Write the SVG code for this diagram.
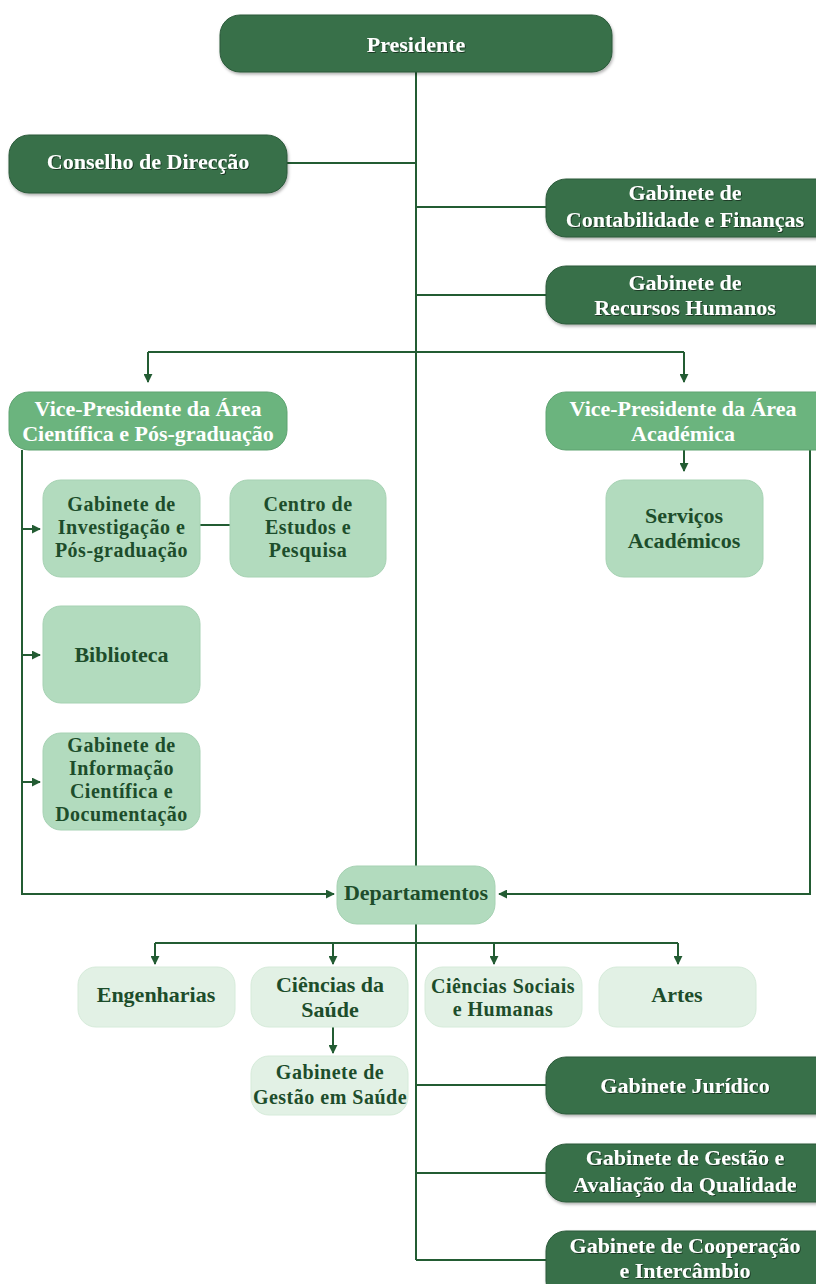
<svg xmlns="http://www.w3.org/2000/svg" width="816" height="1284" viewBox="0 0 816 1284">
<defs>
<style>
text{font-family:"Liberation Serif","Times New Roman",serif;font-weight:bold;font-size:22px;text-anchor:middle}
text.tight{font-size:20px;letter-spacing:0.5px}
.dk rect{fill:#386f4a;stroke:#2b5a3a;stroke-width:1}
.dk text{fill:#ffffff}
.md rect{fill:#6bb47e;stroke:#5ea371;stroke-width:1}
.md text{fill:#ffffff}
.lt rect{fill:#b2dbbe;stroke:#a6d2b3;stroke-width:1}
.lt text{fill:#1d4d2b}
.vl rect{fill:#e2f1e5;stroke:#d6ebda;stroke-width:1}
.vl text{fill:#1d4d2b}
.ln{fill:none;stroke:#235c33;stroke-width:2}
</style>
<marker id="ah" viewBox="0 0 10 10" refX="9" refY="5" markerWidth="9" markerHeight="9" markerUnits="userSpaceOnUse" orient="auto">
<path d="M0,0 L10,5 L0,10 z" fill="#235c33"/>
</marker>
<filter id="sh" x="-10%" y="-10%" width="120%" height="130%">
<feDropShadow dx="1" dy="2" stdDeviation="1.5" flood-color="#000" flood-opacity="0.3"/>
</filter>
<filter id="ts" x="-10%" y="-20%" width="120%" height="140%">
<feDropShadow dx="1" dy="1" stdDeviation="0.6" flood-color="#000" flood-opacity="0.5"/>
</filter>
</defs>
<rect width="816" height="1284" fill="#ffffff"/>

<g id="connectors">
<path class="ln" d="M416,72 V1260"/>
<path class="ln" d="M287,163 H416"/>
<path class="ln" d="M416,207 H546"/>
<path class="ln" d="M416,295 H546"/>
<path class="ln" d="M148,352 H684"/>
<path class="ln" d="M148,352 V382" marker-end="url(#ah)"/>
<path class="ln" d="M684,352 V382" marker-end="url(#ah)"/>
<path class="ln" d="M684,450 V471" marker-end="url(#ah)"/>
<path class="ln" d="M22,450 V894 H334" marker-end="url(#ah)"/>
<path class="ln" d="M22,529 H40" marker-end="url(#ah)"/>
<path class="ln" d="M22,655 H40" marker-end="url(#ah)"/>
<path class="ln" d="M22,782 H40" marker-end="url(#ah)"/>
<path class="ln" d="M200,525 H230"/>
<path class="ln" d="M810,450 V894 H499" marker-end="url(#ah)"/>
<path class="ln" d="M155,943 H678"/>
<path class="ln" d="M155,943 V964" marker-end="url(#ah)"/>
<path class="ln" d="M333,943 V964" marker-end="url(#ah)"/>
<path class="ln" d="M494,943 V964" marker-end="url(#ah)"/>
<path class="ln" d="M678,943 V964" marker-end="url(#ah)"/>
<path class="ln" d="M333,1027 V1053" marker-end="url(#ah)"/>
<path class="ln" d="M416,1085 H546"/>
<path class="ln" d="M416,1173 H546"/>
<path class="ln" d="M416,1260 H546"/>
</g>

<g id="presidente" class="dk"><rect x="220" y="15" width="392" height="57" rx="20" filter="url(#sh)"/><text x="416" y="52" filter="url(#ts)">Presidente</text></g>
<g id="conselho" class="dk"><rect x="9" y="135" width="278" height="58" rx="20" filter="url(#sh)"/><text x="148" y="169" filter="url(#ts)">Conselho de Direcção</text></g>
<g id="contabilidade" class="dk"><rect x="546" y="179" width="290" height="58" rx="20" filter="url(#sh)"/><text filter="url(#ts)"><tspan x="685" y="200">Gabinete de</tspan><tspan x="685" y="227">Contabilidade e Finanças</tspan></text></g>
<g id="recursos" class="dk"><rect x="546" y="266" width="290" height="58" rx="20" filter="url(#sh)"/><text filter="url(#ts)"><tspan x="685" y="290">Gabinete de</tspan><tspan x="685" y="315">Recursos Humanos</tspan></text></g>

<g id="vp-cientifica" class="md"><rect x="9" y="392" width="278" height="58" rx="20"/><text><tspan x="148" y="416">Vice-Presidente da Área</tspan><tspan x="148" y="441">Científica e Pós-graduação</tspan></text></g>
<g id="vp-academica" class="md"><rect x="546" y="392" width="290" height="58" rx="20"/><text><tspan x="683" y="416">Vice-Presidente da Área</tspan><tspan x="683" y="441">Académica</tspan></text></g>

<g id="servicos" class="lt"><rect x="606" y="480" width="157" height="97" rx="18"/><text><tspan x="684" y="523">Serviços</tspan><tspan x="684" y="548">Académicos</tspan></text></g>
<g id="investigacao" class="lt"><rect x="43" y="480" width="157" height="97" rx="18"/><text class="tight"><tspan x="121.5" y="511">Gabinete de</tspan><tspan x="121.5" y="534">Investigação e</tspan><tspan x="121.5" y="557">Pós-graduação</tspan></text></g>
<g id="centro" class="lt"><rect x="230" y="480" width="156" height="97" rx="18"/><text class="tight"><tspan x="308" y="511">Centro de</tspan><tspan x="308" y="534">Estudos e</tspan><tspan x="308" y="557">Pesquisa</tspan></text></g>
<g id="biblioteca" class="lt"><rect x="43" y="606" width="157" height="97" rx="18"/><text x="121.5" y="662">Biblioteca</text></g>
<g id="informacao" class="lt"><rect x="43" y="733" width="157" height="97" rx="18"/><text class="tight"><tspan x="121.5" y="752">Gabinete de</tspan><tspan x="121.5" y="775">Informação</tspan><tspan x="121.5" y="798">Científica e</tspan><tspan x="121.5" y="821">Documentação</tspan></text></g>
<g id="departamentos" class="lt"><rect x="337" y="866" width="158" height="58" rx="20"/><text x="416" y="900">Departamentos</text></g>

<g id="engenharias" class="vl"><rect x="78" y="967" width="157" height="60" rx="18"/><text x="156" y="1002">Engenharias</text></g>
<g id="ciencias-saude" class="vl"><rect x="251" y="967" width="157" height="60" rx="18"/><text><tspan x="330" y="992">Ciências da</tspan><tspan x="330" y="1017">Saúde</tspan></text></g>
<g id="ciencias-sociais" class="vl"><rect x="425" y="967" width="157" height="60" rx="18"/><text class="tight"><tspan x="503" y="993">Ciências Sociais</tspan><tspan x="503" y="1016">e Humanas</tspan></text></g>
<g id="artes" class="vl"><rect x="599" y="967" width="157" height="60" rx="18"/><text x="677" y="1002">Artes</text></g>
<g id="gestao-saude" class="vl"><rect x="251" y="1056" width="157" height="59" rx="18"/><text class="tight"><tspan x="330" y="1079">Gabinete de</tspan><tspan x="330" y="1104">Gestão em Saúde</tspan></text></g>

<g id="juridico" class="dk"><rect x="546" y="1057" width="290" height="57" rx="20" filter="url(#sh)"/><text x="685" y="1093" filter="url(#ts)">Gabinete Jurídico</text></g>
<g id="qualidade" class="dk"><rect x="546" y="1144" width="290" height="58" rx="20" filter="url(#sh)"/><text filter="url(#ts)"><tspan x="685" y="1165">Gabinete de Gestão e</tspan><tspan x="685" y="1192">Avaliação da Qualidade</tspan></text></g>
<g id="cooperacao" class="dk"><rect x="546" y="1231" width="290" height="70" rx="20" filter="url(#sh)"/><text filter="url(#ts)"><tspan x="685" y="1253">Gabinete de Cooperação</tspan><tspan x="685" y="1278">e Intercâmbio</tspan></text></g>
</svg>
